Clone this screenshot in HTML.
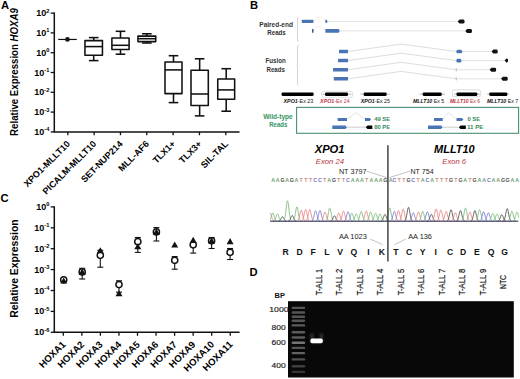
<!DOCTYPE html>
<html><head><meta charset="utf-8"><style>
html,body{margin:0;padding:0;background:#fff;}
body{width:520px;height:379px;overflow:hidden;font-family:"Liberation Sans",sans-serif;}
svg{display:block;}
</style></head><body>
<svg width="520" height="379" viewBox="0 0 520 379">
<rect width="520" height="379" fill="#fff"/>
<text x="1.0" y="8.8" font-size="11.2" font-weight="bold" font-family="Liberation Sans, sans-serif">A</text>
<line x1="54.3" y1="12.5" x2="54.3" y2="131.9" stroke="#111" stroke-width="1.5"/>
<line x1="53.599999999999994" y1="131.9" x2="239.5" y2="131.9" stroke="#111" stroke-width="1.5"/>
<line x1="50.7" y1="13.10" x2="54.3" y2="13.10" stroke="#111" stroke-width="1.3"/>
<text x="49.4" y="16.10" text-anchor="end" font-size="9" font-weight="bold" font-family="Liberation Sans, sans-serif">10<tspan font-size="5.7" dy="-3.6">2</tspan></text>
<line x1="50.7" y1="32.90" x2="54.3" y2="32.90" stroke="#111" stroke-width="1.3"/>
<text x="49.4" y="35.90" text-anchor="end" font-size="9" font-weight="bold" font-family="Liberation Sans, sans-serif">10<tspan font-size="5.7" dy="-3.6">1</tspan></text>
<line x1="50.7" y1="52.70" x2="54.3" y2="52.70" stroke="#111" stroke-width="1.3"/>
<text x="49.4" y="55.70" text-anchor="end" font-size="9" font-weight="bold" font-family="Liberation Sans, sans-serif">10<tspan font-size="5.7" dy="-3.6">0</tspan></text>
<line x1="50.7" y1="72.50" x2="54.3" y2="72.50" stroke="#111" stroke-width="1.3"/>
<text x="49.4" y="75.50" text-anchor="end" font-size="9" font-weight="bold" font-family="Liberation Sans, sans-serif">10<tspan font-size="5.7" dy="-3.6">-1</tspan></text>
<line x1="50.7" y1="92.30" x2="54.3" y2="92.30" stroke="#111" stroke-width="1.3"/>
<text x="49.4" y="95.30" text-anchor="end" font-size="9" font-weight="bold" font-family="Liberation Sans, sans-serif">10<tspan font-size="5.7" dy="-3.6">-2</tspan></text>
<line x1="50.7" y1="112.10" x2="54.3" y2="112.10" stroke="#111" stroke-width="1.3"/>
<text x="49.4" y="115.10" text-anchor="end" font-size="9" font-weight="bold" font-family="Liberation Sans, sans-serif">10<tspan font-size="5.7" dy="-3.6">-3</tspan></text>
<line x1="50.7" y1="131.90" x2="54.3" y2="131.90" stroke="#111" stroke-width="1.3"/>
<text x="49.4" y="134.90" text-anchor="end" font-size="9" font-weight="bold" font-family="Liberation Sans, sans-serif">10<tspan font-size="5.7" dy="-3.6">-4</tspan></text>
<line x1="67.80" y1="131.9" x2="67.80" y2="135.20000000000002" stroke="#111" stroke-width="1.3"/>
<text transform="translate(70.60,144.5) rotate(-45)" text-anchor="end" font-size="9.1" font-weight="bold" font-family="Liberation Sans, sans-serif">XPO1-MLLT10</text>
<line x1="94.13" y1="131.9" x2="94.13" y2="135.20000000000002" stroke="#111" stroke-width="1.3"/>
<text transform="translate(96.93,144.5) rotate(-45)" text-anchor="end" font-size="9.1" font-weight="bold" font-family="Liberation Sans, sans-serif">PICALM-MLLT10</text>
<line x1="120.46" y1="131.9" x2="120.46" y2="135.20000000000002" stroke="#111" stroke-width="1.3"/>
<text transform="translate(123.26,144.5) rotate(-45)" text-anchor="end" font-size="9.1" font-weight="bold" font-family="Liberation Sans, sans-serif">SET-NUP214</text>
<line x1="146.79" y1="131.9" x2="146.79" y2="135.20000000000002" stroke="#111" stroke-width="1.3"/>
<text transform="translate(149.59,144.5) rotate(-45)" text-anchor="end" font-size="9.1" font-weight="bold" font-family="Liberation Sans, sans-serif">MLL-AF6</text>
<line x1="173.12" y1="131.9" x2="173.12" y2="135.20000000000002" stroke="#111" stroke-width="1.3"/>
<text transform="translate(175.92,144.5) rotate(-45)" text-anchor="end" font-size="9.1" font-weight="bold" font-family="Liberation Sans, sans-serif">TLX1+</text>
<line x1="199.45" y1="131.9" x2="199.45" y2="135.20000000000002" stroke="#111" stroke-width="1.3"/>
<text transform="translate(202.25,144.5) rotate(-45)" text-anchor="end" font-size="9.1" font-weight="bold" font-family="Liberation Sans, sans-serif">TLX3+</text>
<line x1="225.78" y1="131.9" x2="225.78" y2="135.20000000000002" stroke="#111" stroke-width="1.3"/>
<text transform="translate(228.58,144.5) rotate(-45)" text-anchor="end" font-size="9.1" font-weight="bold" font-family="Liberation Sans, sans-serif">SIL-TAL</text>
<text transform="translate(18.1,135.9) rotate(-90)" textLength="127.8" lengthAdjust="spacingAndGlyphs" font-size="10.2" font-weight="bold" font-family="Liberation Sans, sans-serif">Relative Expression <tspan font-style="italic">HOXA9</tspan></text>
<g stroke="#111" stroke-width="1.55" fill="none" stroke-linejoin="round"><line x1="93.7" y1="37.6" x2="93.7" y2="40.6"/><line x1="88.9" y1="37.6" x2="98.5" y2="37.6"/><line x1="93.7" y1="55.3" x2="93.7" y2="60.6"/><line x1="88.9" y1="60.6" x2="98.5" y2="60.6"/><rect x="84.95" y="40.6" width="17.5" height="14.699999999999996"/><line x1="84.95" y1="46.6" x2="102.45" y2="46.6"/></g>
<g stroke="#111" stroke-width="1.55" fill="none" stroke-linejoin="round"><line x1="120.5" y1="31.3" x2="120.5" y2="37.9"/><line x1="115.7" y1="31.3" x2="125.3" y2="31.3"/><line x1="120.5" y1="49.4" x2="120.5" y2="54.2"/><line x1="115.7" y1="54.2" x2="125.3" y2="54.2"/><rect x="111.9" y="37.9" width="17.2" height="11.5"/><line x1="111.9" y1="45.3" x2="129.1" y2="45.3"/></g>
<g stroke="#111" stroke-width="1.55" fill="none" stroke-linejoin="round"><line x1="146.85" y1="33.8" x2="146.85" y2="36.1"/><line x1="142.04999999999998" y1="33.8" x2="151.65" y2="33.8"/><line x1="146.85" y1="41.6" x2="146.85" y2="43.0"/><line x1="142.04999999999998" y1="43.0" x2="151.65" y2="43.0"/><rect x="137.95" y="36.1" width="17.8" height="5.5"/><line x1="137.95" y1="38.7" x2="155.75" y2="38.7"/></g>
<g stroke="#111" stroke-width="1.55" fill="none" stroke-linejoin="round"><line x1="173.5" y1="55.7" x2="173.5" y2="61.9"/><line x1="168.7" y1="55.7" x2="178.3" y2="55.7"/><line x1="173.5" y1="93.6" x2="173.5" y2="102.6"/><line x1="168.7" y1="102.6" x2="178.3" y2="102.6"/><rect x="165.0" y="61.9" width="17.0" height="31.699999999999996"/><line x1="165.0" y1="69.9" x2="182.0" y2="69.9"/></g>
<g stroke="#111" stroke-width="1.55" fill="none" stroke-linejoin="round"><line x1="199.65" y1="58.8" x2="199.65" y2="70.3"/><line x1="194.85" y1="58.8" x2="204.45000000000002" y2="58.8"/><line x1="199.65" y1="105.4" x2="199.65" y2="115.9"/><line x1="194.85" y1="115.9" x2="204.45000000000002" y2="115.9"/><rect x="191.0" y="70.3" width="17.3" height="35.10000000000001"/><line x1="191.0" y1="94.0" x2="208.3" y2="94.0"/></g>
<g stroke="#111" stroke-width="1.55" fill="none" stroke-linejoin="round"><line x1="226.2" y1="68.7" x2="226.2" y2="78.9"/><line x1="221.39999999999998" y1="68.7" x2="231.0" y2="68.7"/><line x1="226.2" y1="99.3" x2="226.2" y2="111.2"/><line x1="221.39999999999998" y1="111.2" x2="231.0" y2="111.2"/><rect x="217.75" y="78.9" width="16.9" height="20.39999999999999"/><line x1="217.75" y1="89.9" x2="234.64999999999998" y2="89.9"/></g>
<line x1="58.2" y1="39.45" x2="76.8" y2="39.45" stroke="#111" stroke-width="1.2"/><circle cx="67.45" cy="39.45" r="2.35" fill="#111"/>
<text x="0.6" y="201.9" font-size="11.2" font-weight="bold" font-family="Liberation Sans, sans-serif">C</text>
<line x1="54.3" y1="206.3" x2="54.3" y2="332.3" stroke="#111" stroke-width="1.5"/>
<line x1="53.599999999999994" y1="332.3" x2="239.6" y2="332.3" stroke="#111" stroke-width="1.5"/>
<line x1="50.7" y1="206.90" x2="54.3" y2="206.90" stroke="#111" stroke-width="1.3"/>
<text x="49.4" y="209.90" text-anchor="end" font-size="9" font-weight="bold" font-family="Liberation Sans, sans-serif">10<tspan font-size="5.7" dy="-3.6">0</tspan></text>
<line x1="50.7" y1="227.80" x2="54.3" y2="227.80" stroke="#111" stroke-width="1.3"/>
<text x="49.4" y="230.80" text-anchor="end" font-size="9" font-weight="bold" font-family="Liberation Sans, sans-serif">10<tspan font-size="5.7" dy="-3.6">-1</tspan></text>
<line x1="50.7" y1="248.70" x2="54.3" y2="248.70" stroke="#111" stroke-width="1.3"/>
<text x="49.4" y="251.70" text-anchor="end" font-size="9" font-weight="bold" font-family="Liberation Sans, sans-serif">10<tspan font-size="5.7" dy="-3.6">-2</tspan></text>
<line x1="50.7" y1="269.60" x2="54.3" y2="269.60" stroke="#111" stroke-width="1.3"/>
<text x="49.4" y="272.60" text-anchor="end" font-size="9" font-weight="bold" font-family="Liberation Sans, sans-serif">10<tspan font-size="5.7" dy="-3.6">-3</tspan></text>
<line x1="50.7" y1="290.50" x2="54.3" y2="290.50" stroke="#111" stroke-width="1.3"/>
<text x="49.4" y="293.50" text-anchor="end" font-size="9" font-weight="bold" font-family="Liberation Sans, sans-serif">10<tspan font-size="5.7" dy="-3.6">-4</tspan></text>
<line x1="50.7" y1="311.40" x2="54.3" y2="311.40" stroke="#111" stroke-width="1.3"/>
<text x="49.4" y="314.40" text-anchor="end" font-size="9" font-weight="bold" font-family="Liberation Sans, sans-serif">10<tspan font-size="5.7" dy="-3.6">-5</tspan></text>
<line x1="50.7" y1="332.30" x2="54.3" y2="332.30" stroke="#111" stroke-width="1.3"/>
<text x="49.4" y="335.30" text-anchor="end" font-size="9" font-weight="bold" font-family="Liberation Sans, sans-serif">10<tspan font-size="5.7" dy="-3.6">-6</tspan></text>
<line x1="63.30" y1="332.3" x2="63.30" y2="335.8" stroke="#111" stroke-width="1.3"/>
<text transform="translate(66.30,345.1) rotate(-45)" text-anchor="end" font-size="9.6" font-weight="bold" font-family="Liberation Sans, sans-serif">HOXA1</text>
<line x1="81.85" y1="332.3" x2="81.85" y2="335.8" stroke="#111" stroke-width="1.3"/>
<text transform="translate(84.85,345.1) rotate(-45)" text-anchor="end" font-size="9.6" font-weight="bold" font-family="Liberation Sans, sans-serif">HOXA2</text>
<line x1="100.40" y1="332.3" x2="100.40" y2="335.8" stroke="#111" stroke-width="1.3"/>
<text transform="translate(103.40,345.1) rotate(-45)" text-anchor="end" font-size="9.6" font-weight="bold" font-family="Liberation Sans, sans-serif">HOXA3</text>
<line x1="118.95" y1="332.3" x2="118.95" y2="335.8" stroke="#111" stroke-width="1.3"/>
<text transform="translate(121.95,345.1) rotate(-45)" text-anchor="end" font-size="9.6" font-weight="bold" font-family="Liberation Sans, sans-serif">HOXA4</text>
<line x1="137.50" y1="332.3" x2="137.50" y2="335.8" stroke="#111" stroke-width="1.3"/>
<text transform="translate(140.50,345.1) rotate(-45)" text-anchor="end" font-size="9.6" font-weight="bold" font-family="Liberation Sans, sans-serif">HOXA5</text>
<line x1="156.05" y1="332.3" x2="156.05" y2="335.8" stroke="#111" stroke-width="1.3"/>
<text transform="translate(159.05,345.1) rotate(-45)" text-anchor="end" font-size="9.6" font-weight="bold" font-family="Liberation Sans, sans-serif">HOXA6</text>
<line x1="174.60" y1="332.3" x2="174.60" y2="335.8" stroke="#111" stroke-width="1.3"/>
<text transform="translate(177.60,345.1) rotate(-45)" text-anchor="end" font-size="9.6" font-weight="bold" font-family="Liberation Sans, sans-serif">HOXA7</text>
<line x1="193.15" y1="332.3" x2="193.15" y2="335.8" stroke="#111" stroke-width="1.3"/>
<text transform="translate(196.15,345.1) rotate(-45)" text-anchor="end" font-size="9.6" font-weight="bold" font-family="Liberation Sans, sans-serif">HOXA9</text>
<line x1="211.70" y1="332.3" x2="211.70" y2="335.8" stroke="#111" stroke-width="1.3"/>
<text transform="translate(214.70,345.1) rotate(-45)" text-anchor="end" font-size="9.6" font-weight="bold" font-family="Liberation Sans, sans-serif">HOXA10</text>
<line x1="230.25" y1="332.3" x2="230.25" y2="335.8" stroke="#111" stroke-width="1.3"/>
<text transform="translate(233.25,345.1) rotate(-45)" text-anchor="end" font-size="9.6" font-weight="bold" font-family="Liberation Sans, sans-serif">HOXA11</text>
<text transform="translate(18.1,317.7) rotate(-90)" textLength="98.3" lengthAdjust="spacingAndGlyphs" font-size="10.2" font-weight="bold" font-family="Liberation Sans, sans-serif">Relative Expression</text>
<line x1="63.7" y1="279.8" x2="63.7" y2="279.8" stroke="#111" stroke-width="1.1"/><circle cx="63.7" cy="279.8" r="3.1" fill="#fff" stroke="#111" stroke-width="1.45"/><path d="M63.7,277.40000000000003 L67.2,283.5 L60.2,283.5 Z" fill="#111"/>
<line x1="82.2" y1="268.3" x2="82.2" y2="279.0" stroke="#111" stroke-width="1.1"/><line x1="79.2" y1="268.3" x2="85.2" y2="268.3" stroke="#111" stroke-width="1.1"/><line x1="79.2" y1="279.0" x2="85.2" y2="279.0" stroke="#111" stroke-width="1.1"/><circle cx="82.2" cy="271.9" r="3.1" fill="#fff" stroke="#111" stroke-width="1.45"/><path d="M82.2,268.6 L85.7,274.7 L78.7,274.7 Z" fill="#111"/>
<line x1="100.3" y1="250.3" x2="100.3" y2="267.2" stroke="#111" stroke-width="1.1"/><line x1="97.3" y1="250.3" x2="103.3" y2="250.3" stroke="#111" stroke-width="1.1"/><line x1="97.3" y1="267.2" x2="103.3" y2="267.2" stroke="#111" stroke-width="1.1"/><circle cx="100.3" cy="255.3" r="3.1" fill="#fff" stroke="#111" stroke-width="1.45"/><path d="M100.3,247.2 L103.8,253.29999999999998 L96.8,253.29999999999998 Z" fill="#111"/>
<line x1="119.0" y1="280.8" x2="119.0" y2="292.2" stroke="#111" stroke-width="1.1"/><line x1="116.0" y1="280.8" x2="122.0" y2="280.8" stroke="#111" stroke-width="1.1"/><line x1="116.0" y1="292.2" x2="122.0" y2="292.2" stroke="#111" stroke-width="1.1"/><circle cx="119.0" cy="284.6" r="3.1" fill="#fff" stroke="#111" stroke-width="1.45"/><path d="M119.0,290.20000000000005 L122.5,296.3 L115.5,296.3 Z" fill="#111"/>
<line x1="137.8" y1="237.5" x2="137.8" y2="252.4" stroke="#111" stroke-width="1.1"/><line x1="134.8" y1="237.5" x2="140.8" y2="237.5" stroke="#111" stroke-width="1.1"/><line x1="134.8" y1="252.4" x2="140.8" y2="252.4" stroke="#111" stroke-width="1.1"/><circle cx="137.8" cy="241.7" r="3.1" fill="#fff" stroke="#111" stroke-width="1.45"/><path d="M137.8,243.2 L141.3,249.29999999999998 L134.3,249.29999999999998 Z" fill="#111"/>
<line x1="156.4" y1="227.6" x2="156.4" y2="241.0" stroke="#111" stroke-width="1.1"/><line x1="153.4" y1="227.6" x2="159.4" y2="227.6" stroke="#111" stroke-width="1.1"/><line x1="153.4" y1="241.0" x2="159.4" y2="241.0" stroke="#111" stroke-width="1.1"/><circle cx="156.4" cy="231.9" r="3.1" fill="#fff" stroke="#111" stroke-width="1.45"/><path d="M156.4,228.6 L159.9,234.7 L152.9,234.7 Z" fill="#111"/>
<line x1="174.7" y1="256.6" x2="174.7" y2="269.2" stroke="#111" stroke-width="1.1"/><line x1="171.7" y1="256.6" x2="177.7" y2="256.6" stroke="#111" stroke-width="1.1"/><line x1="171.7" y1="269.2" x2="177.7" y2="269.2" stroke="#111" stroke-width="1.1"/><circle cx="174.7" cy="260.3" r="3.1" fill="#fff" stroke="#111" stroke-width="1.45"/><path d="M174.7,241.4 L178.2,247.5 L171.2,247.5 Z" fill="#111"/>
<line x1="193.2" y1="244.8" x2="193.2" y2="253.1" stroke="#111" stroke-width="1.1"/><line x1="190.2" y1="253.1" x2="196.2" y2="253.1" stroke="#111" stroke-width="1.1"/><circle cx="193.2" cy="244.8" r="3.1" fill="#fff" stroke="#111" stroke-width="1.45"/><path d="M193.2,236.79999999999998 L196.7,242.89999999999998 L189.7,242.89999999999998 Z" fill="#111"/>
<line x1="211.6" y1="237.5" x2="211.6" y2="248.5" stroke="#111" stroke-width="1.1"/><line x1="208.6" y1="237.5" x2="214.6" y2="237.5" stroke="#111" stroke-width="1.1"/><line x1="208.6" y1="248.5" x2="214.6" y2="248.5" stroke="#111" stroke-width="1.1"/><circle cx="211.6" cy="240.8" r="3.1" fill="#fff" stroke="#111" stroke-width="1.45"/><path d="M211.6,237.4 L215.1,243.5 L208.1,243.5 Z" fill="#111"/>
<line x1="230.1" y1="248.5" x2="230.1" y2="259.5" stroke="#111" stroke-width="1.1"/><line x1="227.1" y1="248.5" x2="233.1" y2="248.5" stroke="#111" stroke-width="1.1"/><line x1="227.1" y1="259.5" x2="233.1" y2="259.5" stroke="#111" stroke-width="1.1"/><circle cx="230.1" cy="252.3" r="3.1" fill="#fff" stroke="#111" stroke-width="1.45"/><path d="M230.1,238.1 L233.6,244.2 L226.6,244.2 Z" fill="#111"/>
<text x="250.0" y="9.3" font-size="11.2" font-weight="bold" font-family="Liberation Sans, sans-serif">B</text>
<text x="259.30" y="26.8" textLength="33.60" lengthAdjust="spacingAndGlyphs" font-size="6.4" font-weight="bold" fill="#333" font-family="Liberation Sans, sans-serif">Paired-end</text>
<text x="267.30" y="35.3" textLength="18.40" lengthAdjust="spacingAndGlyphs" font-size="6.4" font-weight="bold" fill="#333" font-family="Liberation Sans, sans-serif">Reads</text>
<text x="265.50" y="63.0" textLength="20.20" lengthAdjust="spacingAndGlyphs" font-size="6.4" font-weight="bold" fill="#333" font-family="Liberation Sans, sans-serif">Fusion</text>
<text x="266.50" y="71.5" textLength="18.30" lengthAdjust="spacingAndGlyphs" font-size="6.4" font-weight="bold" fill="#333" font-family="Liberation Sans, sans-serif">Reads</text>
<path d="M298.6,17.5 Q297.5,17.5 297.5,18.8 L297.5,28.6 Q297.5,29.6 296.7,29.8 Q297.5,30.0 297.5,31.0 L297.5,39.9 Q297.5,41.2 298.6,41.2" stroke="#c4c8d0" stroke-width="0.8" fill="none"/>
<path d="M298.6,45.4 Q297.5,45.4 297.5,46.7 L297.5,64.3 Q297.5,65.1 296.7,65.3 Q297.5,65.5 297.5,66.3 L297.5,83.6 Q297.5,84.9 298.6,84.9" stroke="#c4c8d0" stroke-width="0.8" fill="none"/>
<path d="M313.5,21.4 Q319.3,12.5 325.2,21.4" stroke="#f7e6d4" stroke-width="0.7" fill="none"/>
<path d="M313.8,30.8 Q319.5,22.5 325.3,30.8" stroke="#f7e6d4" stroke-width="0.7" fill="none"/>
<path d="M328,21.4 L458,21.4" stroke="#d4d4d4" stroke-width="0.7" fill="none"/>
<path d="M340,30.9 L466,30.9" stroke="#d4d4d4" stroke-width="0.7" fill="none"/>
<rect x="301.8" y="19.7" width="11.599999999999966" height="3.4" rx="0.6" fill="#4a74b4"/>
<path d="M325.4,19.7 L326.8,19.7 Q328.4,21.4 326.8,23.1 L325.4,23.1 Z" fill="#4a74b4"/>
<path d="M465.3,31 L467.1,29.0 L470.8,29.0 Q472,29.0 472,31 Q472,33.0 470.8,33.0 L467.1,33.0 Z" fill="#111"/>
<rect x="312.0" y="28.900000000000002" width="1.5" height="3.8" rx="0.2" fill="#3a5a90"/>
<path d="M325.4,29.1 L338.6,29.1 Q340.6,30.9 338.6,32.7 L325.4,32.7 Z" fill="#4a74b4"/>
<path d="M457.7,21.4 L459.5,19.4 L463.40000000000003,19.4 Q464.6,19.4 464.6,21.4 Q464.6,23.4 463.40000000000003,23.4 L459.5,23.4 Z" fill="#111"/>
<path d="M348,51.5 L401,44.1 L456.3,51.5" stroke="#d4d4d4" stroke-width="0.8" fill="none"/>
<rect x="339" y="49.75" width="9" height="3.5" rx="0.3" fill="#4a74b4"/>
<path d="M462.2,51.5 L491.5,51.5" stroke="#d4d4d4" stroke-width="0.7" fill="none"/>
<rect x="456.3" y="49.7" width="5.899999999999977" height="3.6" rx="1.5" fill="#4a74b4"/>
<path d="M491.5,51.5 L493.3,49.5 L496.6,49.5 Q497.8,49.5 497.8,51.5 Q497.8,53.5 496.6,53.5 L493.3,53.5 Z" fill="#111"/>
<path d="M348,60.6 L401,53.2 L456.3,60.6" stroke="#d4d4d4" stroke-width="0.8" fill="none"/>
<rect x="338" y="58.85" width="10" height="3.5" rx="0.3" fill="#4a74b4"/>
<path d="M461.4,60.6 L504.6,60.6" stroke="#d4d4d4" stroke-width="0.7" fill="none"/>
<rect x="456.3" y="58.800000000000004" width="5.099999999999966" height="3.6" rx="1.5" fill="#4a74b4"/>
<path d="M504.6,60.6 L506.40000000000003,58.6 L506.90000000000003,58.6 Q508.1,58.6 508.1,60.6 Q508.1,62.6 506.90000000000003,62.6 L506.40000000000003,62.6 Z" fill="#111"/>
<path d="M348,69.75 L401,62.35 L456.3,69.75" stroke="#d4d4d4" stroke-width="0.8" fill="none"/>
<rect x="333" y="68.0" width="15" height="3.5" rx="0.3" fill="#4a74b4"/>
<path d="M457.2,69.75 L489.6,69.75" stroke="#d4d4d4" stroke-width="0.7" fill="none"/>
<line x1="456.3" y1="68.15" x2="456.3" y2="71.35" stroke="#aaa" stroke-width="0.8"/>
<path d="M489.6,69.75 L491.40000000000003,67.75 L495.0,67.75 Q496.2,67.75 496.2,69.75 Q496.2,71.75 495.0,71.75 L491.40000000000003,71.75 Z" fill="#111"/>
<path d="M348,78.8 L401,71.39999999999999 L456.3,78.8" stroke="#d4d4d4" stroke-width="0.8" fill="none"/>
<rect x="333.8" y="77.05" width="14.199999999999989" height="3.5" rx="0.3" fill="#4a74b4"/>
<path d="M457.2,78.8 L501,78.8" stroke="#d4d4d4" stroke-width="0.7" fill="none"/>
<line x1="456.3" y1="77.2" x2="456.3" y2="80.39999999999999" stroke="#aaa" stroke-width="0.8"/>
<path d="M501,78.8 L502.8,76.8 L506.6,76.8 Q507.8,76.8 507.8,78.8 Q507.8,80.8 506.6,80.8 L502.8,80.8 Z" fill="#111"/>
<rect x="321.5" y="91.3" width="31" height="6.0" rx="1.6" fill="none" stroke="#d4d4d4" stroke-width="0.7"/>
<rect x="452.4" y="89.8" width="28" height="6.8" rx="1.6" fill="none" stroke="#cfcfcf" stroke-width="0.7"/>
<path d="M281.6,94.2 L313.6,94.2" stroke="#9a9a9a" stroke-width="0.7" fill="none"/>
<rect x="281.6" y="92.4" width="32.0" height="3.6" rx="1.2" fill="#000"/>
<path d="M322.4,94.2 L351.5,94.2" stroke="#9a9a9a" stroke-width="0.7" fill="none"/>
<rect x="325" y="92.4" width="23" height="3.6" rx="1.2" fill="#000"/>
<path d="M360.4,94.2 L389.7,94.2" stroke="#9a9a9a" stroke-width="0.7" fill="none"/>
<rect x="363.7" y="92.4" width="22.900000000000034" height="3.6" rx="1.2" fill="#000"/>
<path d="M419.5,94.2 L445,94.2" stroke="#9a9a9a" stroke-width="0.7" fill="none"/>
<rect x="422.7" y="92.4" width="19.0" height="3.6" rx="1.2" fill="#000"/>
<path d="M454,94.2 L480,94.2" stroke="#9a9a9a" stroke-width="0.7" fill="none"/>
<rect x="456.5" y="92.4" width="20.80000000000001" height="3.6" rx="1.2" fill="#000"/>
<path d="M487.2,94.2 L509.4,94.2" stroke="#9a9a9a" stroke-width="0.7" fill="none"/>
<rect x="489.3" y="92.4" width="18.0" height="3.6" rx="1.2" fill="#000"/>
<text x="283.50" y="102.9" textLength="29.80" lengthAdjust="spacingAndGlyphs" font-size="5.2" fill="#111" font-family="Liberation Sans, sans-serif"><tspan font-weight="bold" font-style="italic">XPO1</tspan>-Ex 23</text>
<text x="320.10" y="102.9" textLength="29.50" lengthAdjust="spacingAndGlyphs" font-size="5.2" fill="#c0303f" font-family="Liberation Sans, sans-serif"><tspan font-weight="bold" font-style="italic">XPO1</tspan>-Ex 24</text>
<text x="360.70" y="102.9" textLength="29.30" lengthAdjust="spacingAndGlyphs" font-size="5.2" fill="#111" font-family="Liberation Sans, sans-serif"><tspan font-weight="bold" font-style="italic">XPO1</tspan>-Ex 25</text>
<text x="412.90" y="102.9" textLength="31.20" lengthAdjust="spacingAndGlyphs" font-size="5.2" fill="#111" font-family="Liberation Sans, sans-serif"><tspan font-weight="bold" font-style="italic">MLLT10</tspan> Ex 5</text>
<text x="449.90" y="102.9" textLength="30.20" lengthAdjust="spacingAndGlyphs" font-size="5.2" fill="#c0303f" font-family="Liberation Sans, sans-serif"><tspan font-weight="bold" font-style="italic">MLLT10</tspan> Ex 6</text>
<text x="486.90" y="102.9" textLength="31.30" lengthAdjust="spacingAndGlyphs" font-size="5.2" fill="#111" font-family="Liberation Sans, sans-serif"><tspan font-weight="bold" font-style="italic">MLLT10</tspan> Ex 7</text>
<rect x="296.6" y="107.4" width="222" height="25.9" fill="none" stroke="#4a9070" stroke-width="1.1"/>
<text x="263.20" y="118.7" textLength="29.60" lengthAdjust="spacingAndGlyphs" font-size="6.4" font-weight="bold" fill="#359462" font-family="Liberation Sans, sans-serif">Wild-type</text>
<text x="269.20" y="127.2" textLength="18.20" lengthAdjust="spacingAndGlyphs" font-size="6.4" font-weight="bold" fill="#359462" font-family="Liberation Sans, sans-serif">Reads</text>
<rect x="337.7" y="118.0" width="9.300000000000011" height="3" rx="0.2" fill="#4a74b4"/>
<path d="M347,119.2 L356,112.6 L365,119.2" stroke="#d8d8d8" stroke-width="0.7" fill="none"/>
<path d="M365,118.0 L369.59999999999997,118.0 L371.2,119.5 L369.59999999999997,121.0 L365,121.0 Z" fill="#4a74b4"/>
<path d="M332.3,125.5 L345.4,125.5 L347,127.2 L345.4,128.9 L332.3,128.9 Z" fill="#4a74b4"/>
<path d="M347,127.2 L365.7,127.2" stroke="#aaa" stroke-width="0.6" fill="none"/>
<path d="M365.7,127.2 L367.5,125.4 L372.3,125.4 L372.3,129.0 L367.5,129.0 Z" fill="#000"/>
<rect x="434" y="118.0" width="8.699999999999989" height="3" rx="0.2" fill="#4a74b4"/>
<path d="M442.7,119.2 L448.5,112.6 L456.5,119.2" stroke="#d8d8d8" stroke-width="0.7" fill="none"/>
<path d="M456.5,118.0 L461.9,118.0 L463.5,119.5 L461.9,121.0 L456.5,121.0 Z" fill="#4a74b4"/>
<path d="M428,125.5 L441.09999999999997,125.5 L442.7,127.2 L441.09999999999997,128.9 L428,128.9 Z" fill="#4a74b4"/>
<path d="M442.7,127.2 L458.8,127.2" stroke="#aaa" stroke-width="0.6" fill="none"/>
<path d="M458.8,127.2 L460.6,125.4 L465.8,125.4 L465.8,129.0 L460.6,129.0 Z" fill="#000"/>
<text x="374.20" y="120.8" textLength="15.90" lengthAdjust="spacingAndGlyphs" font-size="5.9" font-weight="bold" fill="#358a58" font-family="Liberation Sans, sans-serif">49 SE</text>
<text x="374.20" y="129.2" textLength="15.90" lengthAdjust="spacingAndGlyphs" font-size="5.9" font-weight="bold" fill="#358a58" font-family="Liberation Sans, sans-serif">80 PE</text>
<text x="467.50" y="120.8" textLength="12.60" lengthAdjust="spacingAndGlyphs" font-size="5.9" font-weight="bold" fill="#358a58" font-family="Liberation Sans, sans-serif">0 SE</text>
<text x="466.90" y="129.2" textLength="16.60" lengthAdjust="spacingAndGlyphs" font-size="5.9" font-weight="bold" fill="#358a58" font-family="Liberation Sans, sans-serif">11 PE</text>
<text x="314.70" y="152.5" textLength="29.80" lengthAdjust="spacingAndGlyphs" font-size="10.8" font-weight="bold" font-style="italic" fill="#000" font-family="Liberation Sans, sans-serif">XPO1</text>
<text x="434.10" y="152.7" textLength="40.60" lengthAdjust="spacingAndGlyphs" font-size="10.8" font-weight="bold" font-style="italic" fill="#000" font-family="Liberation Sans, sans-serif">MLLT10</text>
<text x="315.80" y="164.2" textLength="28.20" lengthAdjust="spacingAndGlyphs" font-size="7.4" font-style="italic" fill="#b83242" font-family="Liberation Sans, sans-serif">Exon 24</text>
<text x="442.30" y="164.1" textLength="23.80" lengthAdjust="spacingAndGlyphs" font-size="7.4" font-style="italic" fill="#b83242" font-family="Liberation Sans, sans-serif">Exon 6</text>
<text x="338.90" y="174.1" textLength="27.60" lengthAdjust="spacingAndGlyphs" font-size="7.1" fill="#222" font-family="Liberation Sans, sans-serif">NT 3797</text>
<text x="410.50" y="174.1" textLength="23.10" lengthAdjust="spacingAndGlyphs" font-size="7.1" fill="#222" font-family="Liberation Sans, sans-serif">NT 754</text>
<text x="338.90" y="239.1" textLength="27.90" lengthAdjust="spacingAndGlyphs" font-size="7.1" fill="#222" font-family="Liberation Sans, sans-serif">AA 1023</text>
<text x="408.20" y="239.1" textLength="23.80" lengthAdjust="spacingAndGlyphs" font-size="7.1" fill="#222" font-family="Liberation Sans, sans-serif">AA 136</text>
<path d="M366.5,171.2 L386.5,177.5" stroke="#999" stroke-width="0.6" fill="none"/>
<path d="M410,171.2 L389.5,177.5" stroke="#999" stroke-width="0.6" fill="none"/>
<path d="M370.3,239.1 L382.5,244.6" stroke="#999" stroke-width="0.6" fill="none"/>
<path d="M405.7,239.1 L394.6,244.6" stroke="#999" stroke-width="0.6" fill="none"/>
<text x="273.10" y="181.8" text-anchor="middle" font-size="5.3" font-weight="bold" fill="#6f9f70" font-family="Liberation Sans, sans-serif">A</text>
<text x="277.78" y="181.8" text-anchor="middle" font-size="5.3" font-weight="bold" fill="#6f9f70" font-family="Liberation Sans, sans-serif">A</text>
<text x="282.46" y="181.8" text-anchor="middle" font-size="5.3" font-weight="bold" fill="#505050" font-family="Liberation Sans, sans-serif">G</text>
<text x="287.14" y="181.8" text-anchor="middle" font-size="5.3" font-weight="bold" fill="#6f9f70" font-family="Liberation Sans, sans-serif">A</text>
<text x="291.82" y="181.8" text-anchor="middle" font-size="5.3" font-weight="bold" fill="#505050" font-family="Liberation Sans, sans-serif">G</text>
<text x="296.50" y="181.8" text-anchor="middle" font-size="5.3" font-weight="bold" fill="#6f9f70" font-family="Liberation Sans, sans-serif">A</text>
<text x="301.18" y="181.8" text-anchor="middle" font-size="5.3" font-weight="bold" fill="#c89282" font-family="Liberation Sans, sans-serif">T</text>
<text x="305.86" y="181.8" text-anchor="middle" font-size="5.3" font-weight="bold" fill="#c89282" font-family="Liberation Sans, sans-serif">T</text>
<text x="310.54" y="181.8" text-anchor="middle" font-size="5.3" font-weight="bold" fill="#c89282" font-family="Liberation Sans, sans-serif">T</text>
<text x="315.22" y="181.8" text-anchor="middle" font-size="5.3" font-weight="bold" fill="#7272c4" font-family="Liberation Sans, sans-serif">C</text>
<text x="319.90" y="181.8" text-anchor="middle" font-size="5.3" font-weight="bold" fill="#7272c4" font-family="Liberation Sans, sans-serif">C</text>
<text x="324.58" y="181.8" text-anchor="middle" font-size="5.3" font-weight="bold" fill="#c89282" font-family="Liberation Sans, sans-serif">T</text>
<text x="329.26" y="181.8" text-anchor="middle" font-size="5.3" font-weight="bold" fill="#6f9f70" font-family="Liberation Sans, sans-serif">A</text>
<text x="333.94" y="181.8" text-anchor="middle" font-size="5.3" font-weight="bold" fill="#505050" font-family="Liberation Sans, sans-serif">G</text>
<text x="338.62" y="181.8" text-anchor="middle" font-size="5.3" font-weight="bold" fill="#c89282" font-family="Liberation Sans, sans-serif">T</text>
<text x="343.30" y="181.8" text-anchor="middle" font-size="5.3" font-weight="bold" fill="#c89282" font-family="Liberation Sans, sans-serif">T</text>
<text x="347.98" y="181.8" text-anchor="middle" font-size="5.3" font-weight="bold" fill="#7272c4" font-family="Liberation Sans, sans-serif">C</text>
<text x="352.66" y="181.8" text-anchor="middle" font-size="5.3" font-weight="bold" fill="#6f9f70" font-family="Liberation Sans, sans-serif">A</text>
<text x="357.34" y="181.8" text-anchor="middle" font-size="5.3" font-weight="bold" fill="#6f9f70" font-family="Liberation Sans, sans-serif">A</text>
<text x="362.02" y="181.8" text-anchor="middle" font-size="5.3" font-weight="bold" fill="#6f9f70" font-family="Liberation Sans, sans-serif">A</text>
<text x="366.70" y="181.8" text-anchor="middle" font-size="5.3" font-weight="bold" fill="#c89282" font-family="Liberation Sans, sans-serif">T</text>
<text x="371.38" y="181.8" text-anchor="middle" font-size="5.3" font-weight="bold" fill="#6f9f70" font-family="Liberation Sans, sans-serif">A</text>
<text x="376.06" y="181.8" text-anchor="middle" font-size="5.3" font-weight="bold" fill="#6f9f70" font-family="Liberation Sans, sans-serif">A</text>
<text x="380.74" y="181.8" text-anchor="middle" font-size="5.3" font-weight="bold" fill="#6f9f70" font-family="Liberation Sans, sans-serif">A</text>
<text x="385.42" y="181.8" text-anchor="middle" font-size="5.3" font-weight="bold" fill="#505050" font-family="Liberation Sans, sans-serif">G</text>
<text x="390.60" y="181.8" text-anchor="middle" font-size="5.3" font-weight="bold" fill="#6f9f70" font-family="Liberation Sans, sans-serif">A</text>
<text x="394.40" y="181.8" text-anchor="middle" font-size="5.3" font-weight="bold" fill="#7272c4" font-family="Liberation Sans, sans-serif">C</text>
<text x="399.12" y="181.8" text-anchor="middle" font-size="5.3" font-weight="bold" fill="#c89282" font-family="Liberation Sans, sans-serif">T</text>
<text x="403.84" y="181.8" text-anchor="middle" font-size="5.3" font-weight="bold" fill="#c89282" font-family="Liberation Sans, sans-serif">T</text>
<text x="408.56" y="181.8" text-anchor="middle" font-size="5.3" font-weight="bold" fill="#505050" font-family="Liberation Sans, sans-serif">G</text>
<text x="413.28" y="181.8" text-anchor="middle" font-size="5.3" font-weight="bold" fill="#7272c4" font-family="Liberation Sans, sans-serif">C</text>
<text x="418.00" y="181.8" text-anchor="middle" font-size="5.3" font-weight="bold" fill="#c89282" font-family="Liberation Sans, sans-serif">T</text>
<text x="422.72" y="181.8" text-anchor="middle" font-size="5.3" font-weight="bold" fill="#6f9f70" font-family="Liberation Sans, sans-serif">A</text>
<text x="427.44" y="181.8" text-anchor="middle" font-size="5.3" font-weight="bold" fill="#7272c4" font-family="Liberation Sans, sans-serif">C</text>
<text x="432.16" y="181.8" text-anchor="middle" font-size="5.3" font-weight="bold" fill="#6f9f70" font-family="Liberation Sans, sans-serif">A</text>
<text x="436.88" y="181.8" text-anchor="middle" font-size="5.3" font-weight="bold" fill="#c89282" font-family="Liberation Sans, sans-serif">T</text>
<text x="441.60" y="181.8" text-anchor="middle" font-size="5.3" font-weight="bold" fill="#c89282" font-family="Liberation Sans, sans-serif">T</text>
<text x="446.32" y="181.8" text-anchor="middle" font-size="5.3" font-weight="bold" fill="#c89282" font-family="Liberation Sans, sans-serif">T</text>
<text x="451.04" y="181.8" text-anchor="middle" font-size="5.3" font-weight="bold" fill="#505050" font-family="Liberation Sans, sans-serif">G</text>
<text x="455.76" y="181.8" text-anchor="middle" font-size="5.3" font-weight="bold" fill="#c89282" font-family="Liberation Sans, sans-serif">T</text>
<text x="460.48" y="181.8" text-anchor="middle" font-size="5.3" font-weight="bold" fill="#505050" font-family="Liberation Sans, sans-serif">G</text>
<text x="465.20" y="181.8" text-anchor="middle" font-size="5.3" font-weight="bold" fill="#6f9f70" font-family="Liberation Sans, sans-serif">A</text>
<text x="469.92" y="181.8" text-anchor="middle" font-size="5.3" font-weight="bold" fill="#c89282" font-family="Liberation Sans, sans-serif">T</text>
<text x="474.64" y="181.8" text-anchor="middle" font-size="5.3" font-weight="bold" fill="#505050" font-family="Liberation Sans, sans-serif">G</text>
<text x="479.36" y="181.8" text-anchor="middle" font-size="5.3" font-weight="bold" fill="#6f9f70" font-family="Liberation Sans, sans-serif">A</text>
<text x="484.08" y="181.8" text-anchor="middle" font-size="5.3" font-weight="bold" fill="#6f9f70" font-family="Liberation Sans, sans-serif">A</text>
<text x="488.80" y="181.8" text-anchor="middle" font-size="5.3" font-weight="bold" fill="#7272c4" font-family="Liberation Sans, sans-serif">C</text>
<text x="493.52" y="181.8" text-anchor="middle" font-size="5.3" font-weight="bold" fill="#6f9f70" font-family="Liberation Sans, sans-serif">A</text>
<text x="498.24" y="181.8" text-anchor="middle" font-size="5.3" font-weight="bold" fill="#6f9f70" font-family="Liberation Sans, sans-serif">A</text>
<text x="502.96" y="181.8" text-anchor="middle" font-size="5.3" font-weight="bold" fill="#505050" font-family="Liberation Sans, sans-serif">G</text>
<text x="507.68" y="181.8" text-anchor="middle" font-size="5.3" font-weight="bold" fill="#505050" font-family="Liberation Sans, sans-serif">G</text>
<text x="512.40" y="181.8" text-anchor="middle" font-size="5.3" font-weight="bold" fill="#6f9f70" font-family="Liberation Sans, sans-serif">A</text>
<text x="517.12" y="181.8" text-anchor="middle" font-size="5.3" font-weight="bold" fill="#6f9f70" font-family="Liberation Sans, sans-serif">A</text>
<defs><clipPath id="chclip"><rect x="270" y="190" width="249" height="40"/></clipPath></defs>
<path d="M266.00,221.11 L266.26,221.05 L266.52,220.95 L266.79,220.79 L267.05,220.57 L267.31,220.25 L267.57,219.83 L267.84,219.29 L268.10,218.62 L268.36,217.84 L268.62,216.98 L268.89,216.08 L269.15,215.20 L269.41,214.41 L269.68,213.79 L269.94,213.39 L270.20,213.25 L270.46,213.39 L270.72,213.79 L270.99,214.41 L271.25,215.20 L271.51,216.08 L271.77,216.98 L272.04,217.84 L272.30,218.62 L272.56,219.29 L272.82,219.83 L273.09,220.25 L273.35,220.57 L273.61,220.79 L273.88,220.95 L274.14,221.05 L274.40,221.11" stroke="#e88080" stroke-width="0.85" fill="none" clip-path="url(#chclip)"/>
<path d="M268.55,221.11 L268.81,221.04 L269.07,220.94 L269.34,220.78 L269.60,220.55 L269.86,220.22 L270.12,219.79 L270.39,219.23 L270.65,218.54 L270.91,217.73 L271.18,216.85 L271.44,215.92 L271.70,215.01 L271.96,214.20 L272.23,213.56 L272.49,213.14 L272.75,213.00 L273.01,213.14 L273.27,213.56 L273.54,214.20 L273.80,215.01 L274.06,215.92 L274.32,216.85 L274.59,217.73 L274.85,218.54 L275.11,219.23 L275.38,219.79 L275.64,220.22 L275.90,220.55 L276.16,220.78 L276.43,220.94 L276.69,221.04 L276.95,221.11" stroke="#78b878" stroke-width="0.85" fill="none" clip-path="url(#chclip)"/>
<path d="M273.30,221.12 L273.56,221.06 L273.82,220.97 L274.09,220.83 L274.35,220.62 L274.61,220.33 L274.88,219.94 L275.14,219.44 L275.40,218.83 L275.66,218.12 L275.93,217.32 L276.19,216.50 L276.45,215.69 L276.71,214.97 L276.98,214.40 L277.24,214.03 L277.50,213.90 L277.76,214.03 L278.02,214.40 L278.29,214.97 L278.55,215.69 L278.81,216.50 L279.07,217.32 L279.34,218.12 L279.60,218.83 L279.86,219.44 L280.12,219.94 L280.39,220.33 L280.65,220.62 L280.91,220.83 L281.18,220.97 L281.44,221.06 L281.70,221.12" stroke="#78b878" stroke-width="0.85" fill="none" clip-path="url(#chclip)"/>
<path d="M278.30,221.15 L278.56,221.11 L278.82,221.06 L279.09,220.97 L279.35,220.85 L279.61,220.67 L279.88,220.43 L280.14,220.13 L280.40,219.76 L280.66,219.32 L280.93,218.84 L281.19,218.33 L281.45,217.84 L281.71,217.40 L281.98,217.05 L282.24,216.83 L282.50,216.75 L282.76,216.83 L283.02,217.05 L283.29,217.40 L283.55,217.84 L283.81,218.33 L284.07,218.84 L284.34,219.32 L284.60,219.76 L284.86,220.13 L285.12,220.43 L285.39,220.67 L285.65,220.85 L285.91,220.97 L286.18,221.06 L286.44,221.11 L286.70,221.15" stroke="#444" stroke-width="0.85" fill="none" clip-path="url(#chclip)"/>
<path d="M283.30,220.97 L283.56,220.81 L283.82,220.55 L284.09,220.15 L284.35,219.57 L284.61,218.76 L284.88,217.67 L285.14,216.28 L285.40,214.56 L285.66,212.56 L285.93,210.34 L286.19,208.02 L286.45,205.76 L286.71,203.74 L286.98,202.14 L287.24,201.11 L287.50,200.75 L287.76,201.11 L288.02,202.14 L288.29,203.74 L288.55,205.76 L288.81,208.02 L289.07,210.34 L289.34,212.56 L289.60,214.56 L289.86,216.28 L290.12,217.67 L290.39,218.76 L290.65,219.57 L290.91,220.15 L291.18,220.55 L291.44,220.81 L291.70,220.97" stroke="#78b878" stroke-width="0.85" fill="none" clip-path="url(#chclip)"/>
<path d="M288.05,221.14 L288.31,221.09 L288.57,221.02 L288.84,220.91 L289.10,220.75 L289.36,220.52 L289.62,220.22 L289.89,219.83 L290.15,219.35 L290.41,218.79 L290.68,218.17 L290.94,217.53 L291.20,216.90 L291.46,216.33 L291.73,215.89 L291.99,215.60 L292.25,215.50 L292.51,215.60 L292.77,215.89 L293.04,216.33 L293.30,216.90 L293.56,217.53 L293.82,218.17 L294.09,218.79 L294.35,219.35 L294.61,219.83 L294.88,220.22 L295.14,220.52 L295.40,220.75 L295.66,220.91 L295.93,221.02 L296.19,221.09 L296.45,221.14" stroke="#444" stroke-width="0.85" fill="none" clip-path="url(#chclip)"/>
<path d="M292.70,221.04 L292.96,220.92 L293.22,220.74 L293.49,220.46 L293.75,220.05 L294.01,219.48 L294.27,218.71 L294.54,217.72 L294.80,216.51 L295.06,215.09 L295.32,213.53 L295.59,211.89 L295.85,210.29 L296.11,208.86 L296.38,207.73 L296.64,207.00 L296.90,206.75 L297.16,207.00 L297.42,207.73 L297.69,208.86 L297.95,210.29 L298.21,211.89 L298.47,213.53 L298.74,215.09 L299.00,216.51 L299.26,217.72 L299.52,218.71 L299.79,219.48 L300.05,220.05 L300.31,220.46 L300.57,220.74 L300.84,220.92 L301.10,221.04" stroke="#78b878" stroke-width="0.85" fill="none" clip-path="url(#chclip)"/>
<path d="M297.05,221.08 L297.31,220.99 L297.57,220.85 L297.84,220.63 L298.10,220.32 L298.36,219.88 L298.62,219.29 L298.89,218.53 L299.15,217.60 L299.41,216.51 L299.68,215.30 L299.94,214.05 L300.20,212.82 L300.46,211.72 L300.73,210.85 L300.99,210.29 L301.25,210.10 L301.51,210.29 L301.77,210.85 L302.04,211.72 L302.30,212.82 L302.56,214.05 L302.82,215.30 L303.09,216.51 L303.35,217.60 L303.61,218.53 L303.88,219.29 L304.14,219.88 L304.40,220.32 L304.66,220.63 L304.93,220.85 L305.19,220.99 L305.45,221.08" stroke="#e88080" stroke-width="0.85" fill="none" clip-path="url(#chclip)"/>
<path d="M301.40,221.07 L301.66,220.98 L301.93,220.83 L302.19,220.60 L302.45,220.27 L302.71,219.81 L302.98,219.18 L303.24,218.38 L303.50,217.40 L303.76,216.26 L304.03,214.99 L304.29,213.66 L304.55,212.37 L304.81,211.21 L305.08,210.29 L305.34,209.70 L305.60,209.50 L305.86,209.70 L306.12,210.29 L306.39,211.21 L306.65,212.37 L306.91,213.66 L307.18,214.99 L307.44,216.26 L307.70,217.40 L307.96,218.38 L308.23,219.18 L308.49,219.81 L308.75,220.27 L309.01,220.60 L309.28,220.83 L309.54,220.98 L309.80,221.07" stroke="#e88080" stroke-width="0.85" fill="none" clip-path="url(#chclip)"/>
<path d="M305.55,221.07 L305.81,220.98 L306.07,220.83 L306.34,220.60 L306.60,220.27 L306.86,219.81 L307.12,219.18 L307.39,218.38 L307.65,217.40 L307.91,216.26 L308.18,214.99 L308.44,213.66 L308.70,212.37 L308.96,211.21 L309.23,210.29 L309.49,209.70 L309.75,209.50 L310.01,209.70 L310.27,210.29 L310.54,211.21 L310.80,212.37 L311.06,213.66 L311.32,214.99 L311.59,216.26 L311.85,217.40 L312.11,218.38 L312.38,219.18 L312.64,219.81 L312.90,220.27 L313.16,220.60 L313.43,220.83 L313.69,220.98 L313.95,221.07" stroke="#e88080" stroke-width="0.85" fill="none" clip-path="url(#chclip)"/>
<path d="M311.40,221.08 L311.66,221.00 L311.93,220.87 L312.19,220.66 L312.45,220.37 L312.71,219.95 L312.98,219.40 L313.24,218.68 L313.50,217.81 L313.76,216.78 L314.03,215.65 L314.29,214.47 L314.55,213.31 L314.81,212.28 L315.08,211.46 L315.34,210.93 L315.60,210.75 L315.86,210.93 L316.12,211.46 L316.39,212.28 L316.65,213.31 L316.91,214.47 L317.18,215.65 L317.44,216.78 L317.70,217.81 L317.96,218.68 L318.23,219.40 L318.49,219.95 L318.75,220.37 L319.01,220.66 L319.28,220.87 L319.54,221.00 L319.80,221.08" stroke="#7878d8" stroke-width="0.85" fill="none" clip-path="url(#chclip)"/>
<path d="M315.80,221.08 L316.06,221.00 L316.32,220.86 L316.59,220.65 L316.85,220.35 L317.11,219.92 L317.38,219.36 L317.64,218.62 L317.90,217.73 L318.16,216.68 L318.43,215.52 L318.69,214.31 L318.95,213.12 L319.21,212.07 L319.48,211.23 L319.74,210.69 L320.00,210.50 L320.26,210.69 L320.52,211.23 L320.79,212.07 L321.05,213.12 L321.31,214.31 L321.57,215.52 L321.84,216.68 L322.10,217.73 L322.36,218.62 L322.62,219.36 L322.89,219.92 L323.15,220.35 L323.41,220.65 L323.68,220.86 L323.94,221.00 L324.20,221.08" stroke="#7878d8" stroke-width="0.85" fill="none" clip-path="url(#chclip)"/>
<path d="M320.80,221.10 L321.06,221.02 L321.32,220.91 L321.59,220.73 L321.85,220.47 L322.11,220.10 L322.38,219.61 L322.64,218.98 L322.90,218.21 L323.16,217.31 L323.43,216.31 L323.69,215.27 L323.95,214.26 L324.21,213.35 L324.48,212.62 L324.74,212.16 L325.00,212.00 L325.26,212.16 L325.52,212.62 L325.79,213.35 L326.05,214.26 L326.31,215.27 L326.57,216.31 L326.84,217.31 L327.10,218.21 L327.36,218.98 L327.62,219.61 L327.89,220.10 L328.15,220.47 L328.41,220.73 L328.68,220.91 L328.94,221.02 L329.20,221.10" stroke="#e88080" stroke-width="0.85" fill="none" clip-path="url(#chclip)"/>
<path d="M325.55,221.05 L325.81,220.95 L326.07,220.78 L326.34,220.52 L326.60,220.15 L326.86,219.63 L327.12,218.92 L327.39,218.02 L327.65,216.91 L327.91,215.62 L328.18,214.19 L328.44,212.69 L328.70,211.24 L328.96,209.93 L329.23,208.90 L329.49,208.23 L329.75,208.00 L330.01,208.23 L330.27,208.90 L330.54,209.93 L330.80,211.24 L331.06,212.69 L331.32,214.19 L331.59,215.62 L331.85,216.91 L332.11,218.02 L332.38,218.92 L332.64,219.63 L332.90,220.15 L333.16,220.52 L333.43,220.78 L333.69,220.95 L333.95,221.05" stroke="#78b878" stroke-width="0.85" fill="none" clip-path="url(#chclip)"/>
<path d="M330.20,221.14 L330.46,221.10 L330.72,221.03 L330.99,220.92 L331.25,220.77 L331.51,220.55 L331.77,220.26 L332.04,219.89 L332.30,219.43 L332.56,218.90 L332.82,218.31 L333.09,217.69 L333.35,217.09 L333.61,216.55 L333.88,216.12 L334.14,215.84 L334.40,215.75 L334.66,215.84 L334.92,216.12 L335.19,216.55 L335.45,217.09 L335.71,217.69 L335.97,218.31 L336.24,218.90 L336.50,219.43 L336.76,219.89 L337.02,220.26 L337.29,220.55 L337.55,220.77 L337.81,220.92 L338.07,221.03 L338.34,221.10 L338.60,221.14" stroke="#444" stroke-width="0.85" fill="none" clip-path="url(#chclip)"/>
<path d="M334.55,221.11 L334.81,221.04 L335.07,220.94 L335.34,220.78 L335.60,220.55 L335.86,220.22 L336.12,219.79 L336.39,219.23 L336.65,218.54 L336.91,217.73 L337.18,216.85 L337.44,215.92 L337.70,215.01 L337.96,214.20 L338.23,213.56 L338.49,213.14 L338.75,213.00 L339.01,213.14 L339.27,213.56 L339.54,214.20 L339.80,215.01 L340.06,215.92 L340.32,216.85 L340.59,217.73 L340.85,218.54 L341.11,219.23 L341.38,219.79 L341.64,220.22 L341.90,220.55 L342.16,220.78 L342.43,220.94 L342.69,221.04 L342.95,221.11" stroke="#e88080" stroke-width="0.85" fill="none" clip-path="url(#chclip)"/>
<path d="M339.30,221.09 L339.56,221.01 L339.82,220.88 L340.09,220.68 L340.35,220.40 L340.61,220.00 L340.88,219.46 L341.14,218.77 L341.40,217.92 L341.66,216.93 L341.93,215.84 L342.19,214.69 L342.45,213.58 L342.71,212.58 L342.98,211.79 L343.24,211.28 L343.50,211.10 L343.76,211.28 L344.02,211.79 L344.29,212.58 L344.55,213.58 L344.81,214.69 L345.07,215.84 L345.34,216.93 L345.60,217.92 L345.86,218.77 L346.12,219.46 L346.39,220.00 L346.65,220.40 L346.91,220.68 L347.18,220.88 L347.44,221.01 L347.70,221.09" stroke="#e88080" stroke-width="0.85" fill="none" clip-path="url(#chclip)"/>
<path d="M343.90,221.10 L344.16,221.02 L344.43,220.90 L344.69,220.72 L344.95,220.45 L345.21,220.07 L345.48,219.57 L345.74,218.92 L346.00,218.13 L346.26,217.21 L346.53,216.18 L346.79,215.11 L347.05,214.07 L347.31,213.13 L347.58,212.39 L347.84,211.91 L348.10,211.75 L348.36,211.91 L348.62,212.39 L348.89,213.13 L349.15,214.07 L349.41,215.11 L349.68,216.18 L349.94,217.21 L350.20,218.13 L350.46,218.92 L350.73,219.57 L350.99,220.07 L351.25,220.45 L351.51,220.72 L351.78,220.90 L352.04,221.02 L352.30,221.10" stroke="#7878d8" stroke-width="0.85" fill="none" clip-path="url(#chclip)"/>
<path d="M347.70,221.11 L347.96,221.05 L348.22,220.95 L348.49,220.79 L348.75,220.57 L349.01,220.25 L349.27,219.83 L349.54,219.29 L349.80,218.62 L350.06,217.84 L350.32,216.98 L350.59,216.08 L350.85,215.20 L351.11,214.41 L351.38,213.79 L351.64,213.39 L351.90,213.25 L352.16,213.39 L352.42,213.79 L352.69,214.41 L352.95,215.20 L353.21,216.08 L353.47,216.98 L353.74,217.84 L354.00,218.62 L354.26,219.29 L354.52,219.83 L354.79,220.25 L355.05,220.57 L355.31,220.79 L355.57,220.95 L355.84,221.05 L356.10,221.11" stroke="#78b878" stroke-width="0.85" fill="none" clip-path="url(#chclip)"/>
<path d="M352.05,221.12 L352.31,221.06 L352.57,220.97 L352.84,220.83 L353.10,220.62 L353.36,220.33 L353.62,219.94 L353.89,219.44 L354.15,218.83 L354.41,218.12 L354.68,217.32 L354.94,216.50 L355.20,215.69 L355.46,214.97 L355.73,214.40 L355.99,214.03 L356.25,213.90 L356.51,214.03 L356.77,214.40 L357.04,214.97 L357.30,215.69 L357.56,216.50 L357.82,217.32 L358.09,218.12 L358.35,218.83 L358.61,219.44 L358.88,219.94 L359.14,220.33 L359.40,220.62 L359.66,220.83 L359.93,220.97 L360.19,221.06 L360.45,221.12" stroke="#78b878" stroke-width="0.85" fill="none" clip-path="url(#chclip)"/>
<path d="M357.05,221.09 L357.31,221.01 L357.57,220.89 L357.84,220.70 L358.10,220.42 L358.36,220.03 L358.62,219.51 L358.89,218.84 L359.15,218.02 L359.41,217.06 L359.68,216.00 L359.94,214.88 L360.20,213.80 L360.46,212.83 L360.73,212.07 L360.99,211.57 L361.25,211.40 L361.51,211.57 L361.77,212.07 L362.04,212.83 L362.30,213.80 L362.56,214.88 L362.82,216.00 L363.09,217.06 L363.35,218.02 L363.61,218.84 L363.88,219.51 L364.14,220.03 L364.40,220.42 L364.66,220.70 L364.93,220.89 L365.19,221.01 L365.45,221.09" stroke="#78b878" stroke-width="0.85" fill="none" clip-path="url(#chclip)"/>
<path d="M362.05,221.09 L362.31,221.00 L362.57,220.87 L362.84,220.68 L363.10,220.39 L363.36,219.98 L363.62,219.44 L363.89,218.74 L364.15,217.89 L364.41,216.89 L364.68,215.78 L364.94,214.63 L365.20,213.50 L365.46,212.49 L365.73,211.69 L365.99,211.18 L366.25,211.00 L366.51,211.18 L366.77,211.69 L367.04,212.49 L367.30,213.50 L367.56,214.63 L367.82,215.78 L368.09,216.89 L368.35,217.89 L368.61,218.74 L368.88,219.44 L369.14,219.98 L369.40,220.39 L369.66,220.68 L369.93,220.87 L370.19,221.00 L370.45,221.09" stroke="#e88080" stroke-width="0.85" fill="none" clip-path="url(#chclip)"/>
<path d="M366.40,221.10 L366.66,221.02 L366.93,220.91 L367.19,220.73 L367.45,220.47 L367.71,220.10 L367.98,219.61 L368.24,218.98 L368.50,218.21 L368.76,217.31 L369.03,216.31 L369.29,215.27 L369.55,214.26 L369.81,213.35 L370.08,212.62 L370.34,212.16 L370.60,212.00 L370.86,212.16 L371.12,212.62 L371.39,213.35 L371.65,214.26 L371.91,215.27 L372.18,216.31 L372.44,217.31 L372.70,218.21 L372.96,218.98 L373.23,219.61 L373.49,220.10 L373.75,220.47 L374.01,220.73 L374.28,220.91 L374.54,221.02 L374.80,221.10" stroke="#78b878" stroke-width="0.85" fill="none" clip-path="url(#chclip)"/>
<path d="M371.40,221.11 L371.66,221.05 L371.93,220.95 L372.19,220.79 L372.45,220.57 L372.71,220.25 L372.98,219.83 L373.24,219.29 L373.50,218.62 L373.76,217.84 L374.03,216.98 L374.29,216.08 L374.55,215.20 L374.81,214.41 L375.08,213.79 L375.34,213.39 L375.60,213.25 L375.86,213.39 L376.12,213.79 L376.39,214.41 L376.65,215.20 L376.91,216.08 L377.18,216.98 L377.44,217.84 L377.70,218.62 L377.96,219.29 L378.23,219.83 L378.49,220.25 L378.75,220.57 L379.01,220.79 L379.28,220.95 L379.54,221.05 L379.80,221.11" stroke="#78b878" stroke-width="0.85" fill="none" clip-path="url(#chclip)"/>
<path d="M375.80,221.12 L376.06,221.06 L376.32,220.97 L376.59,220.83 L376.85,220.62 L377.11,220.33 L377.38,219.94 L377.64,219.44 L377.90,218.83 L378.16,218.12 L378.43,217.32 L378.69,216.50 L378.95,215.69 L379.21,214.97 L379.48,214.40 L379.74,214.03 L380.00,213.90 L380.26,214.03 L380.52,214.40 L380.79,214.97 L381.05,215.69 L381.31,216.50 L381.57,217.32 L381.84,218.12 L382.10,218.83 L382.36,219.44 L382.62,219.94 L382.89,220.33 L383.15,220.62 L383.41,220.83 L383.68,220.97 L383.94,221.06 L384.20,221.12" stroke="#78b878" stroke-width="0.85" fill="none" clip-path="url(#chclip)"/>
<path d="M380.80,221.13 L381.06,221.07 L381.32,220.99 L381.59,220.86 L381.85,220.67 L382.11,220.40 L382.38,220.04 L382.64,219.59 L382.90,219.02 L383.16,218.37 L383.43,217.64 L383.69,216.88 L383.95,216.14 L384.21,215.48 L384.48,214.95 L384.74,214.62 L385.00,214.50 L385.26,214.62 L385.52,214.95 L385.79,215.48 L386.05,216.14 L386.31,216.88 L386.57,217.64 L386.84,218.37 L387.10,219.02 L387.36,219.59 L387.62,220.04 L387.89,220.40 L388.15,220.67 L388.41,220.86 L388.68,220.99 L388.94,221.07 L389.20,221.13" stroke="#444" stroke-width="0.85" fill="none" clip-path="url(#chclip)"/>
<path d="M385.50,221.05 L385.76,220.94 L386.02,220.77 L386.29,220.51 L386.55,220.13 L386.81,219.60 L387.07,218.89 L387.34,217.97 L387.60,216.85 L387.86,215.54 L388.12,214.08 L388.39,212.57 L388.65,211.09 L388.91,209.76 L389.18,208.71 L389.44,208.03 L389.70,207.80 L389.96,208.03 L390.22,208.71 L390.49,209.76 L390.75,211.09 L391.01,212.57 L391.27,214.08 L391.54,215.54 L391.80,216.85 L392.06,217.97 L392.32,218.89 L392.59,219.60 L392.85,220.13 L393.11,220.51 L393.38,220.77 L393.64,220.94 L393.90,221.05" stroke="#78b878" stroke-width="0.85" fill="none" clip-path="url(#chclip)"/>
<path d="M390.20,221.09 L390.46,221.01 L390.72,220.88 L390.99,220.69 L391.25,220.41 L391.51,220.02 L391.77,219.49 L392.04,218.82 L392.30,217.99 L392.56,217.02 L392.82,215.94 L393.09,214.82 L393.35,213.73 L393.61,212.75 L393.88,211.97 L394.14,211.47 L394.40,211.30 L394.66,211.47 L394.92,211.97 L395.19,212.75 L395.45,213.73 L395.71,214.82 L395.97,215.94 L396.24,217.02 L396.50,217.99 L396.76,218.82 L397.02,219.49 L397.29,220.02 L397.55,220.41 L397.81,220.69 L398.07,220.88 L398.34,221.01 L398.60,221.09" stroke="#7878d8" stroke-width="0.85" fill="none" clip-path="url(#chclip)"/>
<path d="M394.30,221.08 L394.56,221.00 L394.82,220.86 L395.09,220.66 L395.35,220.36 L395.61,219.94 L395.88,219.37 L396.14,218.65 L396.40,217.76 L396.66,216.72 L396.93,215.57 L397.19,214.37 L397.45,213.20 L397.71,212.15 L397.98,211.32 L398.24,210.78 L398.50,210.60 L398.76,210.78 L399.02,211.32 L399.29,212.15 L399.55,213.20 L399.81,214.37 L400.07,215.57 L400.34,216.72 L400.60,217.76 L400.86,218.65 L401.12,219.37 L401.39,219.94 L401.65,220.36 L401.91,220.66 L402.18,220.86 L402.44,221.00 L402.70,221.08" stroke="#e88080" stroke-width="0.85" fill="none" clip-path="url(#chclip)"/>
<path d="M399.00,221.06 L399.26,220.97 L399.52,220.81 L399.79,220.57 L400.05,220.23 L400.31,219.75 L400.57,219.10 L400.84,218.26 L401.10,217.24 L401.36,216.04 L401.62,214.72 L401.89,213.34 L402.15,211.99 L402.41,210.79 L402.68,209.83 L402.94,209.21 L403.20,209.00 L403.46,209.21 L403.72,209.83 L403.99,210.79 L404.25,211.99 L404.51,213.34 L404.77,214.72 L405.04,216.04 L405.30,217.24 L405.56,218.26 L405.82,219.10 L406.09,219.75 L406.35,220.23 L406.61,220.57 L406.88,220.81 L407.14,220.97 L407.40,221.06" stroke="#e88080" stroke-width="0.85" fill="none" clip-path="url(#chclip)"/>
<path d="M404.30,221.05 L404.56,220.93 L404.82,220.76 L405.09,220.49 L405.35,220.09 L405.61,219.54 L405.88,218.80 L406.14,217.85 L406.40,216.69 L406.66,215.33 L406.93,213.82 L407.19,212.24 L407.45,210.71 L407.71,209.33 L407.98,208.24 L408.24,207.54 L408.50,207.30 L408.76,207.54 L409.02,208.24 L409.29,209.33 L409.55,210.71 L409.81,212.24 L410.07,213.82 L410.34,215.33 L410.60,216.69 L410.86,217.85 L411.12,218.80 L411.39,219.54 L411.65,220.09 L411.91,220.49 L412.18,220.76 L412.44,220.93 L412.70,221.05" stroke="#444" stroke-width="0.85" fill="none" clip-path="url(#chclip)"/>
<path d="M409.10,221.11 L409.36,221.04 L409.62,220.93 L409.89,220.76 L410.15,220.52 L410.41,220.19 L410.68,219.73 L410.94,219.15 L411.20,218.44 L411.46,217.61 L411.73,216.69 L411.99,215.72 L412.25,214.78 L412.51,213.94 L412.78,213.28 L413.04,212.85 L413.30,212.70 L413.56,212.85 L413.82,213.28 L414.09,213.94 L414.35,214.78 L414.61,215.72 L414.88,216.69 L415.14,217.61 L415.40,218.44 L415.66,219.15 L415.93,219.73 L416.19,220.19 L416.45,220.52 L416.71,220.76 L416.98,220.93 L417.24,221.04 L417.50,221.11" stroke="#7878d8" stroke-width="0.85" fill="none" clip-path="url(#chclip)"/>
<path d="M414.20,221.10 L414.46,221.02 L414.72,220.91 L414.99,220.73 L415.25,220.47 L415.51,220.10 L415.77,219.61 L416.04,218.98 L416.30,218.21 L416.56,217.31 L416.82,216.31 L417.09,215.27 L417.35,214.26 L417.61,213.35 L417.88,212.62 L418.14,212.16 L418.40,212.00 L418.66,212.16 L418.92,212.62 L419.19,213.35 L419.45,214.26 L419.71,215.27 L419.97,216.31 L420.24,217.31 L420.50,218.21 L420.76,218.98 L421.02,219.61 L421.29,220.10 L421.55,220.47 L421.81,220.73 L422.07,220.91 L422.34,221.02 L422.60,221.10" stroke="#e88080" stroke-width="0.85" fill="none" clip-path="url(#chclip)"/>
<path d="M418.50,221.09 L418.76,221.01 L419.02,220.88 L419.29,220.69 L419.55,220.41 L419.81,220.02 L420.07,219.49 L420.34,218.82 L420.60,217.99 L420.86,217.02 L421.12,215.94 L421.39,214.82 L421.65,213.73 L421.91,212.75 L422.18,211.97 L422.44,211.47 L422.70,211.30 L422.96,211.47 L423.22,211.97 L423.49,212.75 L423.75,213.73 L424.01,214.82 L424.27,215.94 L424.54,217.02 L424.80,217.99 L425.06,218.82 L425.32,219.49 L425.59,220.02 L425.85,220.41 L426.11,220.69 L426.38,220.88 L426.64,221.01 L426.90,221.09" stroke="#78b878" stroke-width="0.85" fill="none" clip-path="url(#chclip)"/>
<path d="M423.20,221.09 L423.46,221.02 L423.72,220.90 L423.99,220.71 L424.25,220.44 L424.51,220.07 L424.77,219.56 L425.04,218.91 L425.30,218.12 L425.56,217.19 L425.82,216.15 L426.09,215.08 L426.35,214.03 L426.61,213.09 L426.88,212.35 L427.14,211.87 L427.40,211.70 L427.66,211.87 L427.92,212.35 L428.19,213.09 L428.45,214.03 L428.71,215.08 L428.97,216.15 L429.24,217.19 L429.50,218.12 L429.76,218.91 L430.02,219.56 L430.29,220.07 L430.55,220.44 L430.81,220.71 L431.07,220.90 L431.34,221.02 L431.60,221.09" stroke="#7878d8" stroke-width="0.85" fill="none" clip-path="url(#chclip)"/>
<path d="M427.20,221.12 L427.46,221.07 L427.72,220.98 L427.99,220.85 L428.25,220.66 L428.51,220.39 L428.77,220.03 L429.04,219.56 L429.30,218.99 L429.56,218.33 L429.82,217.59 L430.09,216.82 L430.35,216.07 L430.61,215.40 L430.88,214.86 L431.14,214.52 L431.40,214.40 L431.66,214.52 L431.92,214.86 L432.19,215.40 L432.45,216.07 L432.71,216.82 L432.97,217.59 L433.24,218.33 L433.50,218.99 L433.76,219.56 L434.02,220.03 L434.29,220.39 L434.55,220.66 L434.81,220.85 L435.07,220.98 L435.34,221.07 L435.60,221.12" stroke="#444" stroke-width="0.85" fill="none" clip-path="url(#chclip)"/>
<path d="M431.90,221.06 L432.16,220.97 L432.43,220.81 L432.69,220.57 L432.95,220.23 L433.21,219.75 L433.48,219.10 L433.74,218.26 L434.00,217.24 L434.26,216.04 L434.53,214.72 L434.79,213.34 L435.05,211.99 L435.31,210.79 L435.58,209.83 L435.84,209.21 L436.10,209.00 L436.36,209.21 L436.62,209.83 L436.89,210.79 L437.15,211.99 L437.41,213.34 L437.68,214.72 L437.94,216.04 L438.20,217.24 L438.46,218.26 L438.73,219.10 L438.99,219.75 L439.25,220.23 L439.51,220.57 L439.78,220.81 L440.04,220.97 L440.30,221.06" stroke="#e88080" stroke-width="0.85" fill="none" clip-path="url(#chclip)"/>
<path d="M436.70,221.08 L436.96,220.99 L437.22,220.84 L437.49,220.63 L437.75,220.31 L438.01,219.86 L438.27,219.27 L438.54,218.50 L438.80,217.56 L439.06,216.47 L439.32,215.25 L439.59,213.98 L439.85,212.75 L440.11,211.64 L440.38,210.76 L440.64,210.20 L440.90,210.00 L441.16,210.20 L441.42,210.76 L441.69,211.64 L441.95,212.75 L442.21,213.98 L442.47,215.25 L442.74,216.47 L443.00,217.56 L443.26,218.50 L443.52,219.27 L443.79,219.86 L444.05,220.31 L444.31,220.63 L444.57,220.84 L444.84,220.99 L445.10,221.08" stroke="#e88080" stroke-width="0.85" fill="none" clip-path="url(#chclip)"/>
<path d="M442.00,221.09 L442.26,221.01 L442.52,220.88 L442.79,220.69 L443.05,220.41 L443.31,220.02 L443.57,219.49 L443.84,218.82 L444.10,217.99 L444.36,217.02 L444.62,215.94 L444.89,214.82 L445.15,213.73 L445.41,212.75 L445.68,211.97 L445.94,211.47 L446.20,211.30 L446.46,211.47 L446.72,211.97 L446.99,212.75 L447.25,213.73 L447.51,214.82 L447.77,215.94 L448.04,217.02 L448.30,217.99 L448.56,218.82 L448.82,219.49 L449.09,220.02 L449.35,220.41 L449.61,220.69 L449.88,220.88 L450.14,221.01 L450.40,221.09" stroke="#e88080" stroke-width="0.85" fill="none" clip-path="url(#chclip)"/>
<path d="M446.80,221.07 L447.06,220.98 L447.32,220.83 L447.59,220.61 L447.85,220.29 L448.11,219.83 L448.38,219.22 L448.64,218.43 L448.90,217.47 L449.16,216.34 L449.43,215.09 L449.69,213.79 L449.95,212.52 L450.21,211.38 L450.48,210.48 L450.74,209.90 L451.00,209.70 L451.26,209.90 L451.52,210.48 L451.79,211.38 L452.05,212.52 L452.31,213.79 L452.57,215.09 L452.84,216.34 L453.10,217.47 L453.36,218.43 L453.62,219.22 L453.89,219.83 L454.15,220.29 L454.41,220.61 L454.68,220.83 L454.94,220.98 L455.20,221.07" stroke="#444" stroke-width="0.85" fill="none" clip-path="url(#chclip)"/>
<path d="M451.20,221.11 L451.46,221.04 L451.72,220.93 L451.99,220.76 L452.25,220.52 L452.51,220.19 L452.77,219.73 L453.04,219.15 L453.30,218.44 L453.56,217.61 L453.82,216.69 L454.09,215.72 L454.35,214.78 L454.61,213.94 L454.88,213.28 L455.14,212.85 L455.40,212.70 L455.66,212.85 L455.92,213.28 L456.19,213.94 L456.45,214.78 L456.71,215.72 L456.97,216.69 L457.24,217.61 L457.50,218.44 L457.76,219.15 L458.02,219.73 L458.29,220.19 L458.55,220.52 L458.81,220.76 L459.07,220.93 L459.34,221.04 L459.60,221.11" stroke="#e88080" stroke-width="0.85" fill="none" clip-path="url(#chclip)"/>
<path d="M456.30,221.08 L456.56,221.00 L456.82,220.86 L457.09,220.66 L457.35,220.36 L457.61,219.94 L457.88,219.37 L458.14,218.65 L458.40,217.76 L458.66,216.72 L458.93,215.57 L459.19,214.37 L459.45,213.20 L459.71,212.15 L459.98,211.32 L460.24,210.78 L460.50,210.60 L460.76,210.78 L461.02,211.32 L461.29,212.15 L461.55,213.20 L461.81,214.37 L462.07,215.57 L462.34,216.72 L462.60,217.76 L462.86,218.65 L463.12,219.37 L463.39,219.94 L463.65,220.36 L463.91,220.66 L464.18,220.86 L464.44,221.00 L464.70,221.08" stroke="#444" stroke-width="0.85" fill="none" clip-path="url(#chclip)"/>
<path d="M461.30,221.05 L461.56,220.95 L461.82,220.78 L462.09,220.52 L462.35,220.15 L462.61,219.63 L462.88,218.92 L463.14,218.02 L463.40,216.91 L463.66,215.62 L463.93,214.19 L464.19,212.69 L464.45,211.24 L464.71,209.93 L464.98,208.90 L465.24,208.23 L465.50,208.00 L465.76,208.23 L466.02,208.90 L466.29,209.93 L466.55,211.24 L466.81,212.69 L467.07,214.19 L467.34,215.62 L467.60,216.91 L467.86,218.02 L468.12,218.92 L468.39,219.63 L468.65,220.15 L468.91,220.52 L469.18,220.78 L469.44,220.95 L469.70,221.05" stroke="#78b878" stroke-width="0.85" fill="none" clip-path="url(#chclip)"/>
<path d="M465.70,221.10 L465.96,221.02 L466.22,220.91 L466.49,220.73 L466.75,220.47 L467.01,220.10 L467.27,219.61 L467.54,218.98 L467.80,218.21 L468.06,217.31 L468.32,216.31 L468.59,215.27 L468.85,214.26 L469.11,213.35 L469.38,212.62 L469.64,212.16 L469.90,212.00 L470.16,212.16 L470.42,212.62 L470.69,213.35 L470.95,214.26 L471.21,215.27 L471.47,216.31 L471.74,217.31 L472.00,218.21 L472.26,218.98 L472.52,219.61 L472.79,220.10 L473.05,220.47 L473.31,220.73 L473.57,220.91 L473.84,221.02 L474.10,221.10" stroke="#e88080" stroke-width="0.85" fill="none" clip-path="url(#chclip)"/>
<path d="M470.70,221.08 L470.96,221.00 L471.22,220.86 L471.49,220.66 L471.75,220.36 L472.01,219.94 L472.27,219.37 L472.54,218.65 L472.80,217.76 L473.06,216.72 L473.32,215.57 L473.59,214.37 L473.85,213.20 L474.11,212.15 L474.38,211.32 L474.64,210.78 L474.90,210.60 L475.16,210.78 L475.42,211.32 L475.69,212.15 L475.95,213.20 L476.21,214.37 L476.47,215.57 L476.74,216.72 L477.00,217.76 L477.26,218.65 L477.52,219.37 L477.79,219.94 L478.05,220.36 L478.31,220.66 L478.57,220.86 L478.84,221.00 L479.10,221.08" stroke="#444" stroke-width="0.85" fill="none" clip-path="url(#chclip)"/>
<path d="M475.40,221.07 L475.66,220.98 L475.93,220.83 L476.19,220.61 L476.45,220.28 L476.71,219.82 L476.98,219.20 L477.24,218.41 L477.50,217.43 L477.76,216.30 L478.03,215.04 L478.29,213.73 L478.55,212.44 L478.81,211.30 L479.08,210.39 L479.34,209.80 L479.60,209.60 L479.86,209.80 L480.12,210.39 L480.39,211.30 L480.65,212.44 L480.91,213.73 L481.18,215.04 L481.44,216.30 L481.70,217.43 L481.96,218.41 L482.23,219.20 L482.49,219.82 L482.75,220.28 L483.01,220.61 L483.28,220.83 L483.54,220.98 L483.80,221.07" stroke="#78b878" stroke-width="0.85" fill="none" clip-path="url(#chclip)"/>
<path d="M479.40,221.09 L479.66,221.02 L479.93,220.90 L480.19,220.71 L480.45,220.44 L480.71,220.07 L480.98,219.56 L481.24,218.91 L481.50,218.12 L481.76,217.19 L482.03,216.15 L482.29,215.08 L482.55,214.03 L482.81,213.09 L483.08,212.35 L483.34,211.87 L483.60,211.70 L483.86,211.87 L484.12,212.35 L484.39,213.09 L484.65,214.03 L484.91,215.08 L485.18,216.15 L485.44,217.19 L485.70,218.12 L485.96,218.91 L486.23,219.56 L486.49,220.07 L486.75,220.44 L487.01,220.71 L487.28,220.90 L487.54,221.02 L487.80,221.09" stroke="#7878d8" stroke-width="0.85" fill="none" clip-path="url(#chclip)"/>
<path d="M484.20,221.11 L484.46,221.04 L484.72,220.93 L484.99,220.76 L485.25,220.52 L485.51,220.19 L485.77,219.73 L486.04,219.15 L486.30,218.44 L486.56,217.61 L486.82,216.69 L487.09,215.72 L487.35,214.78 L487.61,213.94 L487.88,213.28 L488.14,212.85 L488.40,212.70 L488.66,212.85 L488.92,213.28 L489.19,213.94 L489.45,214.78 L489.71,215.72 L489.97,216.69 L490.24,217.61 L490.50,218.44 L490.76,219.15 L491.02,219.73 L491.29,220.19 L491.55,220.52 L491.81,220.76 L492.07,220.93 L492.34,221.04 L492.60,221.11" stroke="#7878d8" stroke-width="0.85" fill="none" clip-path="url(#chclip)"/>
<path d="M488.60,221.11 L488.86,221.05 L489.12,220.95 L489.39,220.79 L489.65,220.57 L489.91,220.26 L490.18,219.84 L490.44,219.30 L490.70,218.64 L490.96,217.86 L491.23,217.00 L491.49,216.11 L491.75,215.24 L492.01,214.46 L492.28,213.84 L492.54,213.44 L492.80,213.30 L493.06,213.44 L493.32,213.84 L493.59,214.46 L493.85,215.24 L494.11,216.11 L494.38,217.00 L494.64,217.86 L494.90,218.64 L495.16,219.30 L495.43,219.84 L495.69,220.26 L495.95,220.57 L496.21,220.79 L496.48,220.95 L496.74,221.05 L497.00,221.11" stroke="#78b878" stroke-width="0.85" fill="none" clip-path="url(#chclip)"/>
<path d="M492.90,221.12 L493.16,221.06 L493.43,220.97 L493.69,220.83 L493.95,220.63 L494.21,220.34 L494.48,219.96 L494.74,219.47 L495.00,218.86 L495.26,218.16 L495.53,217.38 L495.79,216.56 L496.05,215.77 L496.31,215.05 L496.58,214.49 L496.84,214.13 L497.10,214.00 L497.36,214.13 L497.62,214.49 L497.89,215.05 L498.15,215.77 L498.41,216.56 L498.68,217.38 L498.94,218.16 L499.20,218.86 L499.46,219.47 L499.73,219.96 L499.99,220.34 L500.25,220.63 L500.51,220.83 L500.78,220.97 L501.04,221.06 L501.30,221.12" stroke="#78b878" stroke-width="0.85" fill="none" clip-path="url(#chclip)"/>
<path d="M497.60,221.13 L497.86,221.08 L498.12,220.99 L498.39,220.87 L498.65,220.68 L498.91,220.43 L499.18,220.08 L499.44,219.63 L499.70,219.09 L499.96,218.45 L500.23,217.75 L500.49,217.01 L500.75,216.29 L501.01,215.65 L501.28,215.14 L501.54,214.81 L501.80,214.70 L502.06,214.81 L502.32,215.14 L502.59,215.65 L502.85,216.29 L503.11,217.01 L503.38,217.75 L503.64,218.45 L503.90,219.09 L504.16,219.63 L504.43,220.08 L504.69,220.43 L504.95,220.68 L505.21,220.87 L505.48,220.99 L505.74,221.08 L506.00,221.13" stroke="#444" stroke-width="0.85" fill="none" clip-path="url(#chclip)"/>
<path d="M503.00,221.06 L503.26,220.96 L503.52,220.80 L503.79,220.55 L504.05,220.20 L504.31,219.70 L504.57,219.03 L504.84,218.17 L505.10,217.11 L505.36,215.88 L505.62,214.51 L505.89,213.08 L506.15,211.69 L506.41,210.44 L506.68,209.46 L506.94,208.82 L507.20,208.60 L507.46,208.82 L507.72,209.46 L507.99,210.44 L508.25,211.69 L508.51,213.08 L508.77,214.51 L509.04,215.88 L509.30,217.11 L509.56,218.17 L509.82,219.03 L510.09,219.70 L510.35,220.20 L510.61,220.55 L510.88,220.80 L511.14,220.96 L511.40,221.06" stroke="#444" stroke-width="0.85" fill="none" clip-path="url(#chclip)"/>
<path d="M507.70,221.09 L507.96,221.01 L508.22,220.88 L508.49,220.69 L508.75,220.41 L509.01,220.02 L509.27,219.49 L509.54,218.82 L509.80,217.99 L510.06,217.02 L510.32,215.94 L510.59,214.82 L510.85,213.73 L511.11,212.75 L511.38,211.97 L511.64,211.47 L511.90,211.30 L512.16,211.47 L512.42,211.97 L512.69,212.75 L512.95,213.73 L513.21,214.82 L513.48,215.94 L513.74,217.02 L514.00,217.99 L514.26,218.82 L514.52,219.49 L514.79,220.02 L515.05,220.41 L515.31,220.69 L515.57,220.88 L515.84,221.01 L516.10,221.09" stroke="#78b878" stroke-width="0.85" fill="none" clip-path="url(#chclip)"/>
<path d="M512.80,221.10 L513.06,221.02 L513.33,220.91 L513.59,220.73 L513.85,220.47 L514.11,220.10 L514.38,219.61 L514.64,218.98 L514.90,218.21 L515.16,217.31 L515.42,216.31 L515.69,215.27 L515.95,214.26 L516.21,213.35 L516.48,212.62 L516.74,212.16 L517.00,212.00 L517.26,212.16 L517.52,212.62 L517.79,213.35 L518.05,214.26 L518.31,215.27 L518.58,216.31 L518.84,217.31 L519.10,218.21 L519.36,218.98 L519.62,219.61 L519.89,220.10 L520.15,220.47 L520.41,220.73 L520.67,220.91 L520.94,221.02 L521.20,221.10" stroke="#78b878" stroke-width="0.85" fill="none" clip-path="url(#chclip)"/>
<line x1="270" y1="221.2" x2="518.3" y2="221.2" stroke="#22224a" stroke-width="1"/>
<line x1="387.9" y1="145.3" x2="387.9" y2="261.6" stroke="#444" stroke-width="1.5"/>
<text x="285.50" y="255.4" text-anchor="middle" font-size="8.6" font-weight="bold" fill="#111" font-family="Liberation Sans, sans-serif">R</text>
<text x="299.50" y="255.4" text-anchor="middle" font-size="8.6" font-weight="bold" fill="#111" font-family="Liberation Sans, sans-serif">D</text>
<text x="313.12" y="255.4" text-anchor="middle" font-size="8.6" font-weight="bold" fill="#111" font-family="Liberation Sans, sans-serif">F</text>
<text x="326.88" y="255.4" text-anchor="middle" font-size="8.6" font-weight="bold" fill="#111" font-family="Liberation Sans, sans-serif">L</text>
<text x="340.20" y="255.4" text-anchor="middle" font-size="8.6" font-weight="bold" fill="#111" font-family="Liberation Sans, sans-serif">V</text>
<text x="353.90" y="255.4" text-anchor="middle" font-size="8.6" font-weight="bold" fill="#111" font-family="Liberation Sans, sans-serif">Q</text>
<text x="368.50" y="255.4" text-anchor="middle" font-size="8.6" font-weight="bold" fill="#111" font-family="Liberation Sans, sans-serif">I</text>
<text x="381.75" y="255.4" text-anchor="middle" font-size="8.6" font-weight="bold" fill="#111" font-family="Liberation Sans, sans-serif">K</text>
<text x="395.80" y="255.4" text-anchor="middle" font-size="8.6" font-weight="bold" fill="#111" font-family="Liberation Sans, sans-serif">T</text>
<text x="409.00" y="255.4" text-anchor="middle" font-size="8.6" font-weight="bold" fill="#111" font-family="Liberation Sans, sans-serif">C</text>
<text x="422.65" y="255.4" text-anchor="middle" font-size="8.6" font-weight="bold" fill="#111" font-family="Liberation Sans, sans-serif">Y</text>
<text x="435.60" y="255.4" text-anchor="middle" font-size="8.6" font-weight="bold" fill="#111" font-family="Liberation Sans, sans-serif">I</text>
<text x="450.00" y="255.4" text-anchor="middle" font-size="8.6" font-weight="bold" fill="#111" font-family="Liberation Sans, sans-serif">C</text>
<text x="463.00" y="255.4" text-anchor="middle" font-size="8.6" font-weight="bold" fill="#111" font-family="Liberation Sans, sans-serif">D</text>
<text x="476.90" y="255.4" text-anchor="middle" font-size="8.6" font-weight="bold" fill="#111" font-family="Liberation Sans, sans-serif">E</text>
<text x="491.05" y="255.4" text-anchor="middle" font-size="8.6" font-weight="bold" fill="#111" font-family="Liberation Sans, sans-serif">Q</text>
<text x="504.50" y="255.4" text-anchor="middle" font-size="8.6" font-weight="bold" fill="#111" font-family="Liberation Sans, sans-serif">G</text>
<text x="249.6" y="276.0" font-size="11.2" font-weight="bold" font-family="Liberation Sans, sans-serif">D</text>
<text x="274.50" y="297.6" textLength="10.40" lengthAdjust="spacingAndGlyphs" font-size="7.0" font-weight="bold" fill="#111" font-family="Liberation Sans, sans-serif">BP</text>
<text x="269.30" y="312.3" textLength="19.20" lengthAdjust="spacingAndGlyphs" font-size="7.8" fill="#222" font-family="Liberation Sans, sans-serif" stroke="#222" stroke-width="0.18">1000</text>
<text x="271.50" y="330.3" textLength="14.10" lengthAdjust="spacingAndGlyphs" font-size="7.8" fill="#222" font-family="Liberation Sans, sans-serif" stroke="#222" stroke-width="0.18">800</text>
<text x="271.50" y="345.3" textLength="14.10" lengthAdjust="spacingAndGlyphs" font-size="7.8" fill="#222" font-family="Liberation Sans, sans-serif" stroke="#222" stroke-width="0.18">600</text>
<text x="271.50" y="368.4" textLength="14.10" lengthAdjust="spacingAndGlyphs" font-size="7.8" fill="#222" font-family="Liberation Sans, sans-serif" stroke="#222" stroke-width="0.18">400</text>
<defs><filter id="bl" x="-20%" y="-50%" width="140%" height="200%"><feGaussianBlur stdDeviation="0.6"/></filter><filter id="bl2" x="-30%" y="-80%" width="160%" height="260%"><feGaussianBlur stdDeviation="1.2"/></filter><filter id="bl3" x="-20%" y="-10%" width="140%" height="120%"><feGaussianBlur stdDeviation="0.75"/></filter></defs>
<rect x="288" y="301.2" width="225.8" height="76.3" fill="#080808"/>
<g filter="url(#bl3)"><rect x="291.6" y="306.7" width="13.6" height="2.4" rx="1.2" fill="rgba(190,190,190,0.42)"/><rect x="291.6" y="311.3" width="13.6" height="2.4" rx="1.2" fill="rgba(190,190,190,0.42)"/><rect x="291.6" y="315.5" width="13.6" height="2.4" rx="1.2" fill="rgba(190,190,190,0.42)"/><rect x="291.6" y="319.6" width="13.6" height="2.4" rx="1.2" fill="rgba(190,190,190,0.42)"/><rect x="291.6" y="324.2" width="13.6" height="2.4" rx="1.2" fill="rgba(190,190,190,0.45)"/><rect x="291.6" y="331.1" width="13.6" height="2.4" rx="1.2" fill="rgba(190,190,190,0.45)"/><rect x="291.6" y="336.3" width="13.6" height="2.4" rx="1.2" fill="rgba(190,190,190,0.45)"/><rect x="291.6" y="341.5" width="13.6" height="2.4" rx="1.2" fill="rgba(190,190,190,0.6)"/><rect x="291.6" y="346.7" width="13.6" height="2.4" rx="1.2" fill="rgba(190,190,190,0.42)"/><rect x="291.6" y="351.90000000000003" width="13.6" height="2.4" rx="1.2" fill="rgba(190,190,190,0.5)"/><rect x="291.6" y="358.2" width="13.6" height="2.4" rx="1.2" fill="rgba(190,190,190,0.4)"/><rect x="291.6" y="365.1" width="13.6" height="2.4" rx="1.2" fill="rgba(190,190,190,0.3)"/><rect x="291.6" y="370.7" width="13.6" height="2.4" rx="1.2" fill="rgba(190,190,190,0.25)"/></g>
<path d="M310.8,333.5 L313.2,333.5 L313.2,340 L320.2,340 L320.2,333.5 L322.6,333.5 L322.6,343 L310.8,343 Z" fill="rgba(255,255,255,0.22)" filter="url(#bl2)"/>
<rect x="310.4" y="338.6" width="12.4" height="4.7" rx="1.8" fill="#fff" filter="url(#bl)"/>
<text transform="translate(321.50,282) rotate(-90)" text-anchor="middle" textLength="26.6" lengthAdjust="spacingAndGlyphs" font-size="8.9" fill="#1a1a1a" stroke="#1a1a1a" stroke-width="0.22" font-family="Liberation Sans, sans-serif">T-ALL 1</text>
<text transform="translate(342.00,282) rotate(-90)" text-anchor="middle" textLength="26.6" lengthAdjust="spacingAndGlyphs" font-size="8.9" fill="#1a1a1a" stroke="#1a1a1a" stroke-width="0.22" font-family="Liberation Sans, sans-serif">T-ALL 2</text>
<text transform="translate(362.50,282) rotate(-90)" text-anchor="middle" textLength="26.6" lengthAdjust="spacingAndGlyphs" font-size="8.9" fill="#1a1a1a" stroke="#1a1a1a" stroke-width="0.22" font-family="Liberation Sans, sans-serif">T-ALL 3</text>
<text transform="translate(383.00,282) rotate(-90)" text-anchor="middle" textLength="26.6" lengthAdjust="spacingAndGlyphs" font-size="8.9" fill="#1a1a1a" stroke="#1a1a1a" stroke-width="0.22" font-family="Liberation Sans, sans-serif">T-ALL 4</text>
<text transform="translate(403.50,282) rotate(-90)" text-anchor="middle" textLength="26.6" lengthAdjust="spacingAndGlyphs" font-size="8.9" fill="#1a1a1a" stroke="#1a1a1a" stroke-width="0.22" font-family="Liberation Sans, sans-serif">T-ALL 5</text>
<text transform="translate(424.00,282) rotate(-90)" text-anchor="middle" textLength="26.6" lengthAdjust="spacingAndGlyphs" font-size="8.9" fill="#1a1a1a" stroke="#1a1a1a" stroke-width="0.22" font-family="Liberation Sans, sans-serif">T-ALL 6</text>
<text transform="translate(444.50,282) rotate(-90)" text-anchor="middle" textLength="26.6" lengthAdjust="spacingAndGlyphs" font-size="8.9" fill="#1a1a1a" stroke="#1a1a1a" stroke-width="0.22" font-family="Liberation Sans, sans-serif">T-ALL 7</text>
<text transform="translate(465.00,282) rotate(-90)" text-anchor="middle" textLength="26.6" lengthAdjust="spacingAndGlyphs" font-size="8.9" fill="#1a1a1a" stroke="#1a1a1a" stroke-width="0.22" font-family="Liberation Sans, sans-serif">T-ALL 8</text>
<text transform="translate(485.50,282) rotate(-90)" text-anchor="middle" textLength="26.6" lengthAdjust="spacingAndGlyphs" font-size="8.9" fill="#1a1a1a" stroke="#1a1a1a" stroke-width="0.22" font-family="Liberation Sans, sans-serif">T-ALL 9</text>
<text transform="translate(506.00,282) rotate(-90)" text-anchor="middle" textLength="14.0" lengthAdjust="spacingAndGlyphs" font-size="8.9" fill="#1a1a1a" stroke="#1a1a1a" stroke-width="0.22" font-family="Liberation Sans, sans-serif">NTC</text>
</svg>
</body></html>
